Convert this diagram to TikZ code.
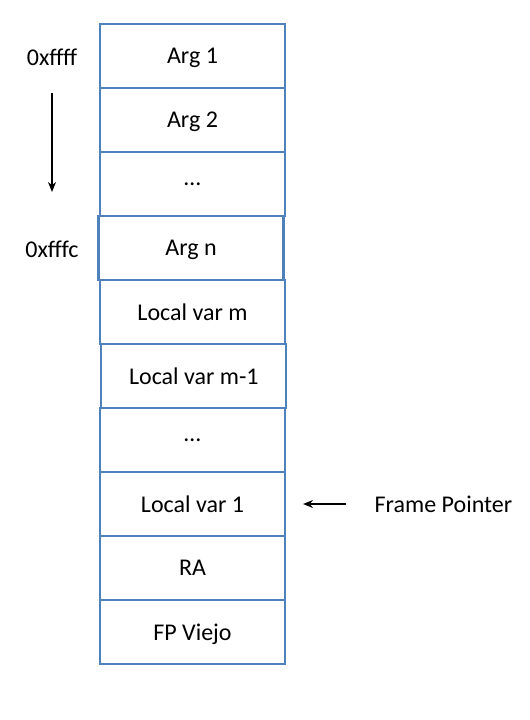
\documentclass[tikz,border=0pt]{standalone}
\usepackage{fontspec}
\setmainfont{Carlito}
\usepackage{tikz}
\usetikzlibrary{positioning, arrows.meta}

\definecolor{cellblue}{RGB}{79,129,189}

\begin{document}
\begin{tikzpicture}[x=0.75pt, y=-0.75pt, >={Stealth[length=7.5pt,width=6pt]},
  cell/.style={rectangle,draw=cellblue,line width=1.6pt,outer sep=0pt,text depth=0pt,
    minimum width=138.75pt,minimum height=48pt,font=\fontsize{18}{21}\selectfont},
  label node/.style={font=\fontsize{18}{21}\selectfont}]

\useasboundingbox (0,0) rectangle (529,720);

\node[cell] (A1) at (192.5,56) {Arg 1};
\node[cell] (A2) [below=0pt of A1] {Arg 2};
\node[cell] (D1) [below=0pt of A2] {\dots};
\node[cell] (An) [below=0pt of D1, xshift=-1.1pt] {Arg n};
\node[cell] (Lm) [below=0pt of An, xshift=1.1pt] {Local var m};
\node[cell] (Lm1) [below=0pt of Lm, xshift=1pt] {Local var m-1};
\node[cell] (D2) [below=0pt of Lm1, xshift=-1pt] {\dots};
\node[cell] (L1) [below=0pt of D2] {Local var 1};
\node[cell] (RA) [below=0pt of L1] {RA};
\node[cell] (FPV) [below=0pt of RA] {FP Viejo};

\node[label node] (hi) at (52,57) {0xffff};
\node[label node] (lo) at (52,249) {0xfffc};
\node[label node, right] (fp) at (370,504) {Frame Pointer};

\coordinate (down start) at (52,93);
\coordinate (down end) at (52,192);

\draw[->, line width=1.4pt] (down start) -- (down end);
\draw[->, line width=1.4pt, shorten <=18pt, shorten >=13.5pt] (fp.west) -- (L1.east);
\end{tikzpicture}
\end{document}
